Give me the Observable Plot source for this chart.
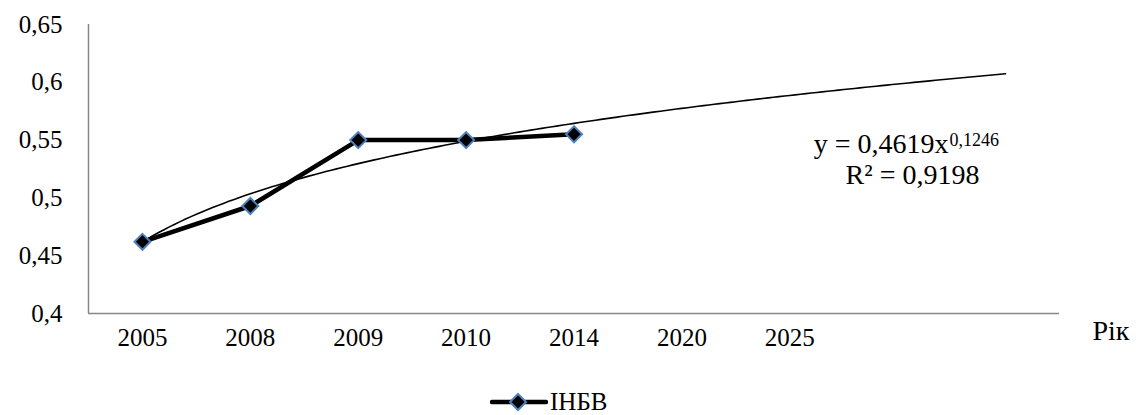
<!DOCTYPE html>
<html>
<head>
<meta charset="utf-8">
<script src="https://cdn.jsdelivr.net/npm/d3@7"></script>
<script src="https://cdn.jsdelivr.net/npm/@observablehq/plot@0.6"></script>
<style>
  html, body { margin: 0; padding: 0; background: #fff; }
  body { width: 1138px; height: 415px; position: relative; overflow: hidden; font-family: "Liberation Serif", "Times New Roman", serif; }
  #chart { position: absolute; left: 0; top: 0; }
  #legend { position: absolute; left: 490px; top: 387px; display: flex; align-items: center; font-size: 25px; color: #000; }
  #legend svg { display: block; }
</style>
</head>
<body>
<div id="chart"></div>
<div id="legend"></div>
<script>
// Data
const years = ["2005", "2008", "2009", "2010", "2014", "2020", "2025", "", ""];
const seriesName = "ІНБВ";
const inbv = [0.462, 0.493, 0.55, 0.55, 0.555];
const yTicks = [0.4, 0.45, 0.5, 0.55, 0.6, 0.65];
// Power trendline shown on the chart: y = a * x^b, forecast to category 9
const trendA = 0.4619;
const trendB = 0.1246;
const trendEnd = 9;
const eqMain = "y = 0,4619x";
const eqPow = "0,1246";
const eqR2 = "R² = 0,9198";
const xLabel = "Рік";

const points = inbv.map((v, i) => ({x: i + 1, y: v}));
const trend = d3.range(1, trendEnd + 0.0001, 0.05).map(x => ({x, y: trendA * Math.pow(x, trendB)}));

const fmt = d => String(d).replace(".", ",");
const font = "'Liberation Serif', 'Times New Roman', serif";

const plot = Plot.plot({
  width: 1138,
  height: 360,
  marginLeft: 88,
  marginRight: 79,
  marginTop: 24,
  marginBottom: 47,
  style: {fontFamily: font, fontSize: "25px", color: "#000", background: "#fff"},
  x: {domain: [0.5, years.length + 0.5], axis: null},
  y: {domain: [0.4, 0.65], axis: null},
  marks: [
    Plot.axisY({ticks: yTicks, tickFormat: fmt, tickSize: 0, tickPadding: 26, label: null, fontSize: 25}),
    Plot.axisX({ticks: d3.range(1, years.length + 1), tickFormat: i => years[i - 1], tickSize: 0, tickPadding: 15, label: null, fontSize: 25}),
    Plot.ruleY([0.4], {stroke: "#878787", strokeWidth: 1.5}),
    Plot.ruleX([0.5], {stroke: "#878787", strokeWidth: 1.5}),
    Plot.line(trend, {x: "x", y: "y", stroke: "#000", strokeWidth: 1.6}),
    Plot.line(points, {x: "x", y: "y", stroke: "#000", strokeWidth: 4.5}),
    Plot.dot(points, {x: "x", y: "y", symbol: "diamond2", r: 7.2, fill: "#000", stroke: "#4f81bd", strokeWidth: 2}),
    Plot.text([eqMain], {frameAnchor: "top-left", dx: 860, dy: 128, textAnchor: "end", lineAnchor: "bottom", fontSize: 28}),
    Plot.text([eqPow], {frameAnchor: "top-left", dx: 861, dy: 121, textAnchor: "start", lineAnchor: "bottom", fontSize: 18, letterSpacing: "1.5px"}),
    Plot.text([eqR2], {frameAnchor: "top-left", dx: 824, dy: 159, textAnchor: "middle", lineAnchor: "bottom", fontSize: 28}),
    Plot.text([xLabel], {frameAnchor: "bottom-right", dx: 33, dy: 26, textAnchor: "start", lineAnchor: "bottom", fontSize: 28})
  ]
});
document.getElementById("chart").appendChild(plot);

// Legend
const lg = document.getElementById("legend");
const ns = "http://www.w3.org/2000/svg";
const sw = document.createElementNS(ns, "svg");
sw.setAttribute("width", 58); sw.setAttribute("height", 30);
sw.innerHTML = '<line x1="2" y1="15" x2="56" y2="15" stroke="#000" stroke-width="4.5" stroke-linecap="round"/>' +
  '<path d="M28,7L36,15L28,23L20,15Z" fill="#000" stroke="#4f81bd" stroke-width="2"/>';
lg.appendChild(sw);
const lt = document.createElement("span");
lt.textContent = seriesName;
lt.style.marginLeft = "2px";
lg.appendChild(lt);
</script>
</body>
</html>
